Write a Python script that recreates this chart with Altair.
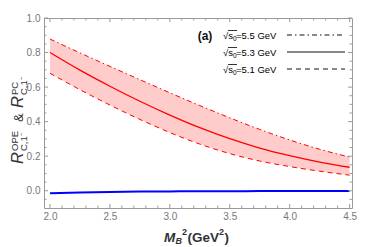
import altair as alt
import pandas as pd

# ---- data ----
m2 = [2.0, 2.25, 2.5, 2.75, 3.0, 3.25, 3.5, 3.75, 4.0, 4.25, 4.5]
central = [0.80, 0.698, 0.605, 0.518, 0.438, 0.365, 0.301, 0.247, 0.203, 0.166, 0.136]
upper = [0.878, 0.798, 0.720, 0.643, 0.567, 0.493, 0.422, 0.355, 0.294, 0.24, 0.195]
lower = [0.68, 0.585, 0.496, 0.413, 0.337, 0.270, 0.215, 0.172, 0.14, 0.113, 0.09]
blue = [-0.014, -0.010, -0.007, -0.005, -0.004, -0.003, -0.003, -0.002, -0.002, -0.002, -0.002]

x_labels = [2.0, 2.5, 3.0, 3.5, 4.0, 4.5]
x_minor = [2.1, 2.2, 2.3, 2.4, 2.6, 2.7, 2.8, 2.9, 3.1, 3.2, 3.3, 3.4,
           3.6, 3.7, 3.8, 3.9, 4.1, 4.2, 4.3, 4.4]
y_labels = [0.0, 0.2, 0.4, 0.6, 0.8, 1.0]
y_minor = [-0.05, 0.05, 0.1, 0.15, 0.25, 0.3, 0.35, 0.45, 0.5, 0.55,
           0.65, 0.7, 0.75, 0.85, 0.9, 0.95]

legend_values = ["5.5", "5.3", "5.1"]
legend_dashes = [[5, 3, 1.5, 3], [1, 0], [5, 4]]

W, H = 308, 190
FRAME = "#9a9a9a"
LABEL = "#777777"
FONT = "Liberation Sans"

df = pd.DataFrame({"m2": m2, "central": central, "upper": upper,
                   "lower": lower, "blue": blue})

XS = alt.Scale(domain=[1.95, 4.52], nice=False, zero=False)
YS = alt.Scale(domain=[-0.1, 1.0], nice=False, zero=False)
xax = alt.Axis(values=x_labels, format=".1f", ticks=False, domain=False, grid=False,
               labelFontSize=10, labelColor=LABEL, labelFont=FONT, labelPadding=3, title="")
yax = alt.Axis(values=y_labels, format=".1f", ticks=False, domain=False, grid=False,
               labelFontSize=10, labelColor=LABEL, labelFont=FONT, labelPadding=4, title="")


def X(f):
    return alt.X(f, type="quantitative", scale=XS, axis=xax)


def Y(f):
    return alt.Y(f, type="quantitative", scale=YS, axis=yax)


base = alt.Chart(df)
band = base.mark_area(color="#ffcccc", opacity=1, interpolate="monotone").encode(
    x=X("m2"), y=Y("lower"), y2="upper")
c_line = base.mark_line(color="#ff0000", strokeWidth=1.3, interpolate="monotone").encode(
    x=X("m2"), y=Y("central"))
u_line = base.mark_line(color="#ff0000", strokeWidth=1, strokeDash=[5, 3, 1.5, 3],
                        interpolate="monotone").encode(x=X("m2"), y=Y("upper"))
l_line = base.mark_line(color="#ff0000", strokeWidth=1, strokeDash=[5, 4],
                        interpolate="monotone").encode(x=X("m2"), y=Y("lower"))
b_line = base.mark_line(color="#0000ff", strokeWidth=2, interpolate="monotone").encode(
    x=X("m2"), y=Y("blue"))

layers = [band, c_line, u_line, l_line, b_line]

# ticks (inside the frame, on all four sides)
xt = pd.DataFrame({"v": x_labels})
xm = pd.DataFrame({"v": x_minor})
yt = pd.DataFrame({"v": y_labels})
ym = pd.DataFrame({"v": y_minor})
for d, ln in [(xt, 4), (xm, 2.5)]:
    layers.append(alt.Chart(d).mark_rule(color=FRAME, strokeWidth=1).encode(
        x=X("v"), y=alt.value(H), y2=alt.value(H - ln)))
    layers.append(alt.Chart(d).mark_rule(color=FRAME, strokeWidth=1).encode(
        x=X("v"), y=alt.value(0), y2=alt.value(ln)))
for d, ln in [(yt, 4), (ym, 2.5)]:
    layers.append(alt.Chart(d).mark_rule(color=FRAME, strokeWidth=1).encode(
        y=Y("v"), x=alt.value(0), x2=alt.value(ln)))
    layers.append(alt.Chart(d).mark_rule(color=FRAME, strokeWidth=1).encode(
        y=Y("v"), x=alt.value(W), x2=alt.value(W - ln)))


def txt(s, x, y, size, **kw):
    return alt.Chart(pd.DataFrame({"t": [s]})).mark_text(
        fontSize=size, font=FONT, **kw).encode(
        text="t:N", x=alt.value(x), y=alt.value(y))


# panel label
layers.append(txt("(a)", 161, 18, 12, fontWeight="bold", color="#111", align="center",
                  baseline="middle"))

# legend
for i, (v, dash) in enumerate(zip(legend_values, legend_dashes)):
    yc = 17 + 17 * i
    x0 = 179
    layers.append(txt("√s", x0, yc + 3.5, 9.5, color="#000", align="left", baseline="alphabetic"))
    layers.append(txt("0", x0 + 10, yc + 5.5, 6.5, color="#000", align="left", baseline="alphabetic"))
    layers.append(txt(" =" + v + " GeV", x0 + 13, yc + 3.5, 9.5, color="#000", align="left",
                      baseline="alphabetic"))
    layers.append(alt.Chart(pd.DataFrame({"a": [0]})).mark_rule(color="#000", strokeWidth=0.8).encode(
        x=alt.value(x0 + 5), x2=alt.value(x0 + 14), y=alt.value(yc - 4.5)))
    layers.append(alt.Chart(pd.DataFrame({"a": [0]})).mark_rule(
        color="#111", strokeWidth=1, strokeDash=dash).encode(
        x=alt.value(243), x2=alt.value(301), y=alt.value(yc)))

# x axis title:  M_B^2 (GeV^2)
TC = "#333333"
xb = 220
x0 = 120
layers += [
    txt("M", x0, xb, 13.5, fontWeight="bold", fontStyle="italic", color=TC, align="left"),
    txt("B", x0 + 11.5, xb + 3, 9, fontWeight="bold", fontStyle="italic", color=TC, align="left"),
    txt("2", x0 + 18, xb - 6, 9, fontWeight="bold", color=TC, align="left"),
    txt("(GeV", x0 + 23.5, xb, 13.5, fontWeight="bold", color=TC, align="left"),
    txt("2", x0 + 55, xb - 6, 9, fontWeight="bold", color=TC, align="left"),
    txt(")", x0 + 60.5, xb, 13.5, fontWeight="bold", color=TC, align="left"),
]

# y axis title:  R^OPE_{C,1-} & R^PC_{C,1-}  (rotated)
yb = -21
rot = dict(angle=270, align="left", baseline="alphabetic", color=TC)
layers += [
    txt("R", yb, 146, 16.5, fontStyle="italic", **rot),
    txt("OPE", yb - 5.5, 133, 9.5, **rot),
    txt("C,1⁻", yb + 3.5, 133, 9.5, **rot),
    txt("&", yb, 104, 13, **rot),
    txt("R", yb, 90, 16.5, fontStyle="italic", **rot),
    txt("PC", yb - 5.5, 77, 9.5, **rot),
    txt("C,1⁻", yb + 3.5, 77, 9.5, **rot),
]

chart = alt.layer(*layers).properties(
    width=W, height=H,
    padding={"left": 36, "top": 10, "right": 10, "bottom": 38},
    autosize=alt.AutoSizeParams(type="none"),
).configure_view(stroke=FRAME, strokeWidth=1)

chart.save("out.html", embed_options={"renderer": "svg", "actions": False})
